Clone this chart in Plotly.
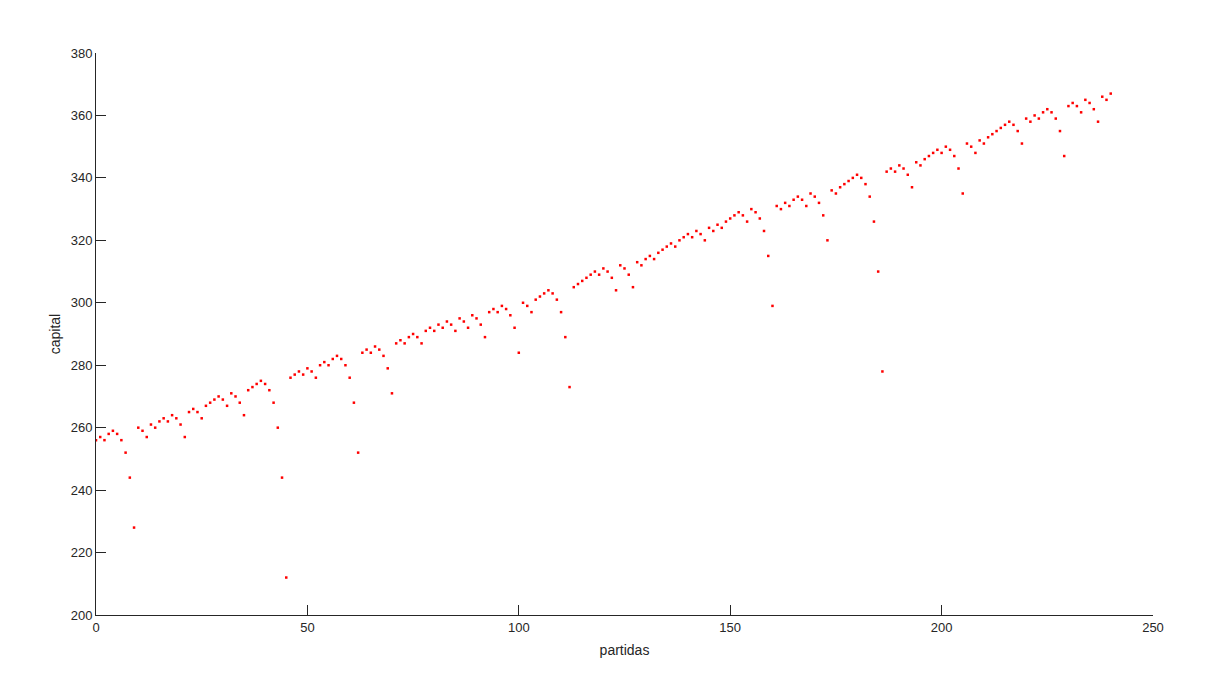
import plotly.graph_objects as go

partidas = list(range(0, 241))
capital = [
    256, 257, 256, 258, 259, 258, 256, 252, 244, 228,
    260, 259, 257, 261, 260, 262, 263, 262, 264, 263,
    261, 257, 265, 266, 265, 263, 267, 268, 269, 270,
    269, 267, 271, 270, 268, 264, 272, 273, 274, 275,
    274, 272, 268, 260, 244, 212, 276, 277, 278, 277,
    279, 278, 276, 280, 281, 280, 282, 283, 282, 280,
    276, 268, 252, 284, 285, 284, 286, 285, 283, 279,
    271, 287, 288, 287, 289, 290, 289, 287, 291, 292,
    291, 293, 292, 294, 293, 291, 295, 294, 292, 296,
    295, 293, 289, 297, 298, 297, 299, 298, 296, 292,
    284, 300, 299, 297, 301, 302, 303, 304, 303, 301,
    297, 289, 273, 305, 306, 307, 308, 309, 310, 309,
    311, 310, 308, 304, 312, 311, 309, 305, 313, 312,
    314, 315, 314, 316, 317, 318, 319, 318, 320, 321,
    322, 321, 323, 322, 320, 324, 323, 325, 324, 326,
    327, 328, 329, 328, 326, 330, 329, 327, 323, 315,
    299, 331, 330, 332, 331, 333, 334, 333, 331, 335,
    334, 332, 328, 320, 336, 335, 337, 338, 339, 340,
    341, 340, 338, 334, 326, 310, 278, 342, 343, 342,
    344, 343, 341, 337, 345, 344, 346, 347, 348, 349,
    348, 350, 349, 347, 343, 335, 351, 350, 348, 352,
    351, 353, 354, 355, 356, 357, 358, 357, 355, 351,
    359, 358, 360, 359, 361, 362, 361, 359, 355, 347,
    363, 364, 363, 361, 365, 364, 362, 358, 366, 365,
    367,
]

x_ticks = [0, 50, 100, 150, 200, 250]
y_ticks = [200, 220, 240, 260, 280, 300, 320, 340, 360, 380]

fig = go.Figure()
fig.add_trace(go.Scatter(
    x=partidas, y=capital, mode="markers",
    marker=dict(color="#ff0000", size=2.5, symbol="square", line=dict(width=0)),
    showlegend=False,
))

axis_common = dict(
    showline=True, linecolor="#262626", linewidth=1,
    ticks="inside", ticklen=10, tickcolor="#262626", tickwidth=1,
    showgrid=False, zeroline=False, mirror=False,
    tickfont=dict(family="Liberation Sans, Arial", size=13, color="#262626"),
)

fig.update_layout(
    width=1230, height=691,
    margin=dict(l=88, r=85, t=45, b=84),
    paper_bgcolor="white", plot_bgcolor="white",
    font=dict(family="Liberation Sans, Arial", size=14, color="#262626"),
    xaxis=dict(range=[0, 250], tickvals=x_ticks,
               title=dict(text="partidas", standoff=11,
                          font=dict(size=14, color="#262626")),
               **axis_common),
    yaxis=dict(range=[200, 380], tickvals=y_ticks,
               title=dict(text="capital", standoff=6,
                          font=dict(size=14, color="#262626")),
               **axis_common),
)

fig.write_html("out.html")
